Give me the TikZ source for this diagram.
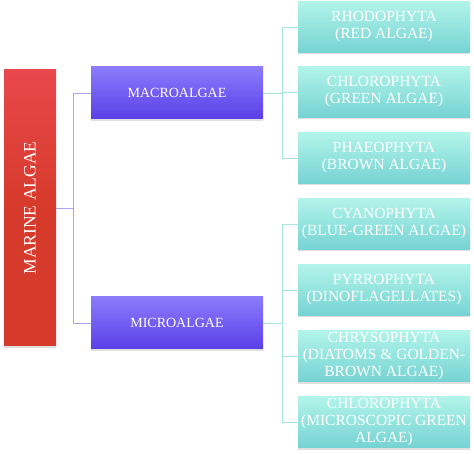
\documentclass[tikz,border=0pt]{standalone}
\usepackage{fontspec}
\setmainfont{Liberation Serif}
\usetikzlibrary{positioning,shadows}
\definecolor{algaered}{HTML}{D63A2A}
\definecolor{algaeredtop}{HTML}{E8484C}
\definecolor{macrotop}{HTML}{8C7BFB}
\definecolor{macrobot}{HTML}{5A3FE8}
\definecolor{leaftop}{HTML}{B2F4EA}
\definecolor{leafbot}{HTML}{76D3D3}
\definecolor{linkviolet}{HTML}{A8A4F0}
\definecolor{linkteal}{HTML}{A6E6DE}

\begin{document}
\begin{tikzpicture}[x=1pt,y=-1pt,
  every node/.style={font=\fontsize{14}{16}\selectfont,text=white,inner sep=1pt},
  boxshade/.style={drop shadow={shadow xshift=0pt,shadow yshift=-2pt,opacity=0.25}},
  rootbox/.style={boxshade,top color=algaeredtop,bottom color=algaered,middle color=algaered,minimum width=52pt,minimum height=276pt},
  groupbox/.style={boxshade,top color=macrotop,bottom color=macrobot,minimum width=172pt,minimum height=52pt},
  leafbox/.style={boxshade,top color=leaftop,bottom color=leafbot,minimum width=172pt,minimum height=51pt,align=center,font=\fontsize{15.5}{17}\selectfont},
  linkv/.style={draw=linkviolet,line width=0.8pt},
  linkt/.style={draw=linkteal,line width=0.8pt}]
\useasboundingbox (0,0) rectangle (474,454);
\node[rootbox] (root) at (30,208) {};
\node[rotate=90,font=\fontsize{17.5}{20}\selectfont] (rootlbl) at (root.center) {MARINE ALGAE};
\node[groupbox] (macro) at (177,93) {MACROALGAE};
\node[groupbox] (micro) at (177,323) {MICROALGAE};
% macroalgae classes
\node[leafbox] (rho) at (384,27) {RHODOPHYTA\\(RED ALGAE)};
\node[leafbox] (chl) at (384,92) {CHLOROPHYTA\\(GREEN ALGAE)};
\node[leafbox] (pha) at (384,158) {PHAEOPHYTA\\(BROWN ALGAE)};
% microalgae classes
\node[leafbox] (cya) at (384,224) {CYANOPHYTA\\(BLUE-GREEN ALGAE)};
\node[leafbox] (pyr) at (384,290) {PYRROPHYTA\\(DINOFLAGELLATES)};
\node[leafbox] (chr) at (384,356) {CHRYSOPHYTA\\(DIATOMS \& GOLDEN-\\BROWN ALGAE)};
\node[leafbox] (mcl) at (384,422) {CHLOROPHYTA\\(MICROSCOPIC GREEN\\ALGAE)};
% connectors
\draw[linkv] (root.east) -- ++(17,0) |- (macro.west);
\draw[linkv] (root.east) -- ++(17,0) |- (micro.west);
\foreach \leaf in {rho,chl,pha}
  \draw[linkt] (macro.east) -- ++(19,0) |- (\leaf.west);
\foreach \leaf in {cya,pyr,chr,mcl}
  \draw[linkt] (micro.east) -- ++(19,0) |- (\leaf.west);
\end{tikzpicture}
\end{document}
